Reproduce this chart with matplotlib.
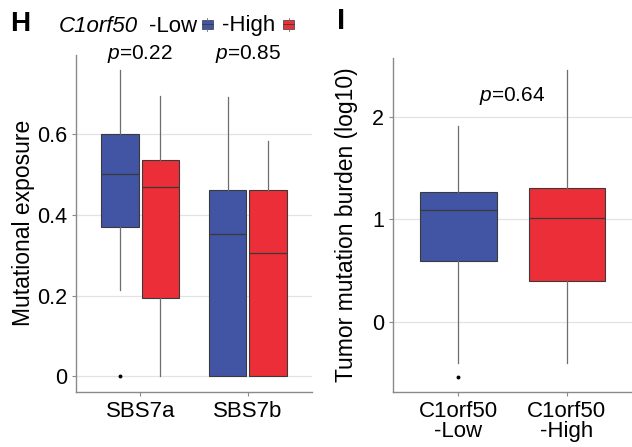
import numpy as np
import matplotlib
matplotlib.use("Agg")
import matplotlib.pyplot as plt
from matplotlib.patches import Rectangle
from matplotlib.lines import Line2D

plt.rcParams['font.family'] = ['Liberation Sans', 'DejaVu Sans']
plt.rcParams['mathtext.fontset'] = 'custom'
plt.rcParams['mathtext.it'] = 'Liberation Sans:italic'
plt.rcParams['mathtext.rm'] = 'Liberation Sans'

# ---- data ----
signatures = ['SBS7a', 'SBS7b']
groups = ['-Low', '-High']
# per signature: [Low, High]
sig_q1 = [[0.370, 0.195], [0.0, 0.0]]
sig_med = [[0.502, 0.469], [0.352, 0.307]]
sig_q3 = [[0.600, 0.536], [0.462, 0.462]]
sig_whislo = [[0.215, 0.0], [0.0, 0.0]]
sig_whishi = [[0.760, 0.695], [0.693, 0.583]]
sig_fliers = [[[0.0], []], [[], []]]
sig_pvals = ['0.22', '0.85']

tmb_labels = ['C1orf50\n-Low', 'C1orf50\n-High']
tmb_q1 = [0.600, 0.402]
tmb_med = [1.092, 1.012]
tmb_q3 = [1.270, 1.303]
tmb_whislo = [-0.393, -0.393]
tmb_whishi = [1.910, 2.454]
tmb_fliers = [[-0.529], []]
tmb_pval = '0.64'

colors = ['#4254A4', '#EB2E37']
box_edge = '#3a3a3a'
whisk_col = '#6e6e6e'
grid_col = '#e3e3e3'
axis_col = '#8a8a8a'

W, H = 632, 447
fig = plt.figure(figsize=(W / 100, H / 100), dpi=100)
axL = fig.add_axes([76 / W, 1 - 391.7 / H, (312 - 76) / W, (391.7 - 55) / H])
axR = fig.add_axes([393.3 / W, 1 - 391.7 / H, (632 - 393.3) / W, (391.7 - 58.3) / H])


def style(ax):
    for s in ['top', 'right']:
        ax.spines[s].set_visible(False)
    for s in ['left', 'bottom']:
        ax.spines[s].set_color(axis_col)
        ax.spines[s].set_linewidth(1.0)
    ax.tick_params(color=axis_col, length=3, width=0.8, labelcolor='black')
    ax.yaxis.grid(True, color=grid_col, linewidth=0.9)
    ax.set_axisbelow(True)


def draw(ax, stats, pos, width, cols):
    bp = ax.bxp(stats, positions=pos, widths=width, patch_artist=True,
                showcaps=False, manage_ticks=False,
                boxprops=dict(edgecolor=box_edge, linewidth=0.8),
                medianprops=dict(color=box_edge, linewidth=0.9),
                whiskerprops=dict(color=whisk_col, linewidth=0.9),
                flierprops=dict(marker='o', markersize=1.8, markerfacecolor='black',
                                markeredgecolor='black'))
    for b, c in zip(bp['boxes'], cols):
        b.set_facecolor(c)


# ---- panel H ----
style(axL)
offs = [-0.1875, 0.1875]
for i in range(len(signatures)):
    stats = []
    for g in range(2):
        stats.append(dict(med=sig_med[i][g], q1=sig_q1[i][g], q3=sig_q3[i][g],
                          whislo=sig_whislo[i][g], whishi=sig_whishi[i][g],
                          fliers=sig_fliers[i][g]))
    draw(axL, stats, [i + o for o in offs], 0.35, colors)
    axL.text(i, 0.80, r'$\it{p}$=' + sig_pvals[i], ha='center', va='center',
             fontsize=15, clip_on=False)
axL.set_xlim(-0.6, 1.6)
axL.set_ylim(-0.038, 0.797)
axL.set_xticks(range(len(signatures)))
axL.set_xticklabels(signatures, fontsize=16)
axL.set_yticks([0, 0.2, 0.4, 0.6])
axL.set_yticklabels(['0', '0.2', '0.4', '0.6'], fontsize=15.5)
axL.set_ylabel('Mutational exposure', fontsize=16.5, labelpad=1)

# ---- panel I ----
style(axR)
stats = [dict(med=tmb_med[g], q1=tmb_q1[g], q3=tmb_q3[g], whislo=tmb_whislo[g],
              whishi=tmb_whishi[g], fliers=tmb_fliers[g]) for g in range(2)]
draw(axR, stats, [0, 1], 0.707, colors)
axR.text(0.5, 2.2, r'$\it{p}$=' + tmb_pval, ha='center', va='center', fontsize=15)
axR.set_xlim(-0.6, 1.6)
axR.set_ylim(-0.675, 2.568)
axR.set_xticks([0, 1])
axR.set_xticklabels(tmb_labels, fontsize=16, linespacing=0.95)
axR.set_yticks([0, 1, 2])
axR.set_yticklabels(['0', '1', '2'], fontsize=15.5)
axR.set_ylabel('Tumor mutation burden (log10)', fontsize=16.5, labelpad=10)

# ---- panel letters and legend ----
fig.text(10 / W, 1 - 24 / H, 'H', fontsize=20, fontweight='bold', va='center', ha='left')
fig.text(337 / W, 1 - 21 / H, 'I', fontsize=21, fontweight='bold', va='center', ha='left')
fig.text(59 / W, 1 - 26 / H, 'C1orf50', fontsize=16, style='italic', va='center')
for lab, c, tx, kx in zip(groups, colors, [149, 222], [202, 283]):
    fig.text(tx / W, 1 - 26 / H, lab, fontsize=16, va='center')
    fig.add_artist(Rectangle((kx / W, 1 - 28.5 / H), 11 / W, 9 / H, transform=fig.transFigure,
                             facecolor=c, edgecolor=box_edge, linewidth=0.5))
    fig.add_artist(Line2D([kx / W, (kx + 11) / W], [1 - 24 / H] * 2, transform=fig.transFigure,
                          color=box_edge, linewidth=0.6))
    fig.add_artist(Line2D([(kx + 5.5) / W] * 2, [1 - 17.5 / H, 1 - 19.5 / H], transform=fig.transFigure,
                          color=whisk_col, linewidth=0.6))
    fig.add_artist(Line2D([(kx + 5.5) / W] * 2, [1 - 28.5 / H, 1 - 30.5 / H], transform=fig.transFigure,
                          color=whisk_col, linewidth=0.6))

fig.savefig('out.png', dpi=100)
